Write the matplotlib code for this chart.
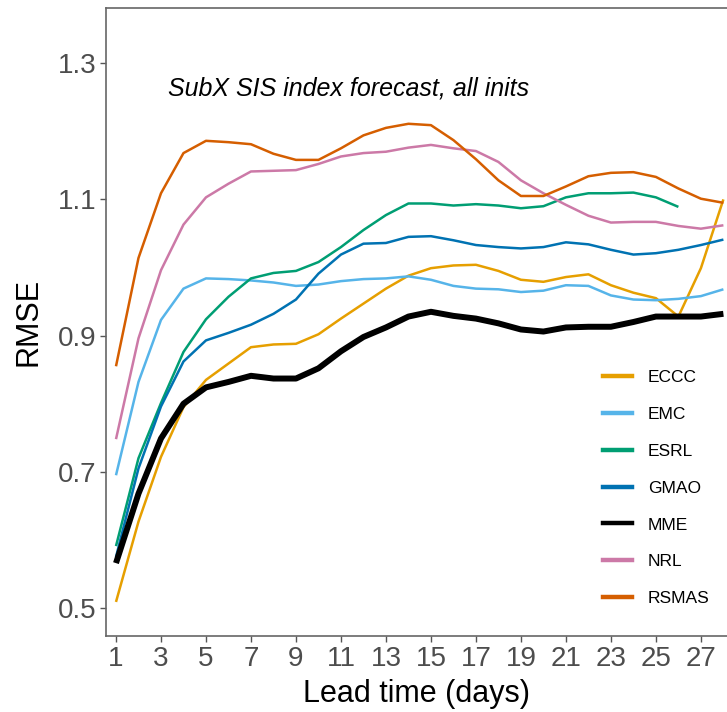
import matplotlib
matplotlib.use("Agg")
import matplotlib.pyplot as plt
from matplotlib.lines import Line2D
from matplotlib import font_manager

fams = {f.name for f in font_manager.fontManager.ttflist}
FONT = "Liberation Sans Narrow" if "Liberation Sans Narrow" in fams else "Liberation Sans"
plt.rcParams["font.family"] = [FONT, "DejaVu Sans"]

lead = list(range(1, 29))
models = ["ECCC", "EMC", "ESRL", "GMAO", "MME", "NRL", "RSMAS"]
colors = ["#E69F00", "#56B4E9", "#009E73", "#0072B2", "#000000", "#CC79A7", "#D55E00"]

eccc = [0.509, 0.627, 0.722, 0.795, 0.835, 0.859, 0.883, 0.887, 0.888, 0.902,
        0.925, 0.947, 0.969, 0.988, 0.999, 1.003, 1.004, 0.995, 0.982, 0.979,
        0.986, 0.990, 0.974, 0.963, 0.955, 0.928, 0.999, 1.100]
emc = [0.695, 0.832, 0.923, 0.969, 0.984, 0.983, 0.981, 0.978, 0.973, 0.975,
       0.980, 0.983, 0.984, 0.987, 0.982, 0.973, 0.969, 0.968, 0.964, 0.966,
       0.974, 0.973, 0.959, 0.953, 0.952, 0.954, 0.958, 0.968]
esrl = [0.591, 0.720, 0.801, 0.876, 0.924, 0.957, 0.984, 0.992, 0.995, 1.008,
        1.030, 1.055, 1.077, 1.094, 1.094, 1.091, 1.093, 1.091, 1.087, 1.090,
        1.103, 1.109, 1.109, 1.110, 1.103, 1.089]
gmao = [0.575, 0.705, 0.796, 0.862, 0.893, 0.904, 0.916, 0.932, 0.953, 0.991,
        1.019, 1.035, 1.036, 1.045, 1.046, 1.040, 1.033, 1.030, 1.028, 1.030,
        1.037, 1.034, 1.026, 1.019, 1.021, 1.026, 1.033, 1.041]
mme = [0.566, 0.668, 0.749, 0.800, 0.824, 0.832, 0.841, 0.837, 0.837, 0.852,
       0.877, 0.898, 0.912, 0.928, 0.935, 0.929, 0.925, 0.918, 0.909, 0.906,
       0.912, 0.913, 0.913, 0.920, 0.928, 0.928, 0.928, 0.932]
nrl = [0.748, 0.896, 0.996, 1.063, 1.103, 1.123, 1.141, 1.142, 1.143, 1.152,
       1.163, 1.168, 1.170, 1.176, 1.180, 1.175, 1.171, 1.155, 1.128, 1.109,
       1.092, 1.076, 1.066, 1.067, 1.067, 1.061, 1.057, 1.062]
rsmas = [0.855, 1.014, 1.109, 1.168, 1.186, 1.184, 1.181, 1.167, 1.158, 1.158,
         1.175, 1.194, 1.205, 1.211, 1.209, 1.187, 1.159, 1.128, 1.105, 1.105,
         1.119, 1.134, 1.139, 1.140, 1.133, 1.116, 1.101, 1.095]
series = [eccc, emc, esrl, gmao, mme, nrl, rsmas]

yticks = [0.5, 0.7, 0.9, 1.1, 1.3]
xticks = list(range(1, 28, 2))

W, H = 727, 712
fig = plt.figure(figsize=(W / 100, H / 100), dpi=100)
ax = fig.add_axes([106 / W, (H - 636) / H, 1 - 106 / W, (636 - 8) / H])

for name, col, vals in zip(models, colors, series):
    lw = 4.3 if name == "MME" else 1.8
    ax.plot(lead[:len(vals)], vals, color=col, lw=lw, solid_joinstyle="round",
            solid_capstyle="butt", zorder=3)

ax.set_xlim(0.556, 28.16)
ax.set_ylim(0.459, 1.381)
ax.set_xticks(xticks)
ax.set_yticks(yticks)
ax.set_yticklabels([f"{v:.1f}" for v in yticks])
ax.tick_params(axis="both", length=4, width=1.0, color="#555555",
               labelcolor="#4D4D4D", labelsize=20, pad=3)

spine_col = "#666666"
for s in ["left", "bottom", "top"]:
    ax.spines[s].set_color(spine_col)
    ax.spines[s].set_linewidth(1.2)
ax.spines["right"].set_visible(False)

ax.set_xlabel("Lead time (days)", fontsize=22, color="black", labelpad=5)
ax.set_ylabel("RMSE", fontsize=22, color="black", labelpad=10)

ax.text(0.0998, 0.861, "SubX SIS index forecast, all inits", transform=ax.transAxes,
        fontsize=18, fontstyle="italic", color="black", va="baseline", ha="left")

handles = [Line2D([0], [0], color=c, lw=3.2) for c in colors]
leg = ax.legend(handles, models, loc="upper left",
                bbox_to_anchor=(596 / W, 1 - 363 / H), bbox_transform=fig.transFigure,
                frameon=False, fontsize=12.5, handlelength=1.67, handletextpad=0.92,
                labelspacing=1.25, borderaxespad=0)

fig.savefig("out.png", dpi=100, facecolor="white")
